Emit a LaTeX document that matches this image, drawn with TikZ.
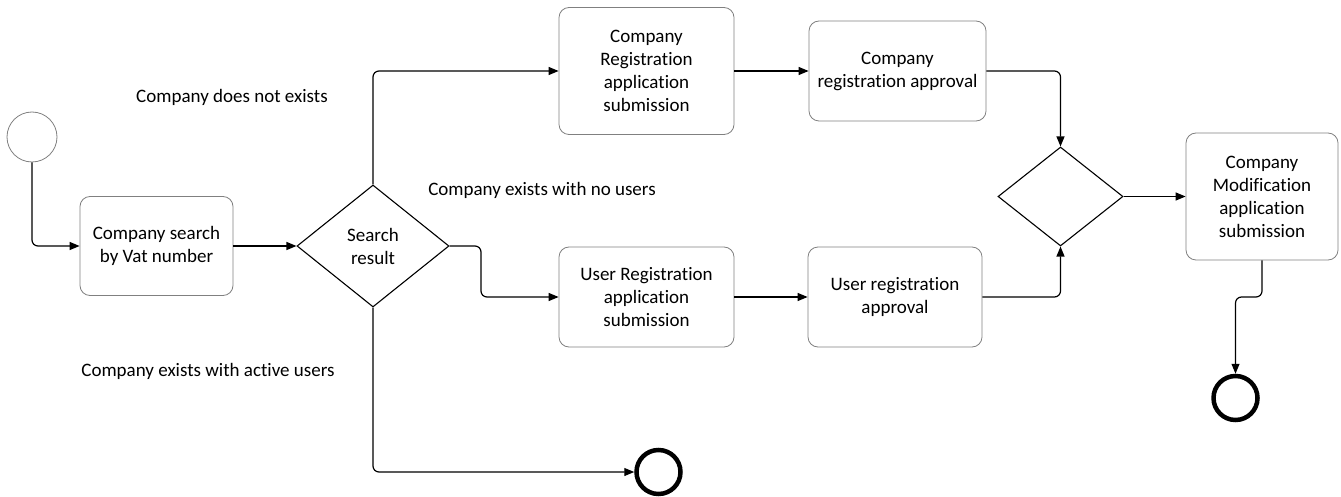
\documentclass[tikz,border=0pt]{standalone}
\usepackage{fontspec}
\setmainfont{Carlito}[Ligatures={NoCommon,NoRare,NoDiscretionary}]
\usetikzlibrary{arrows.meta,shapes.geometric}
\begin{document}
\begin{tikzpicture}[x=1pt,y=-1pt,
  every node/.style={font=\fontsize{19}{23}\selectfont},
  task/.style={draw=black!50, line width=0.8pt, rounded corners=10pt, inner sep=0pt, align=center},
  gate/.style={diamond, draw=black, line width=1.1pt, inner sep=0pt, align=center},
  startev/.style={circle, draw=black!50, line width=0.8pt, inner sep=0pt, minimum size=50pt},
  endev/.style={circle, draw=black, line width=4.5pt, inner sep=0pt, minimum size=44pt},
  flow/.style={draw=black, line width=1.2pt, rounded corners=6pt, -{Triangle[length=10pt,width=8pt]}},
  lbl/.style={inner sep=0pt, text=black}
]
\useasboundingbox (0,0) rectangle (1341,497);

\node[startev] (s) at (32,137) {};
\node[task, minimum width=153pt, minimum height=99pt] (a) at (156.5,246) {Company search\\by Vat number};
\node[gate, minimum width=152pt, minimum height=122pt, aspect=1.25] (g1) at (373,246) {Search\\result};
\node[task, minimum width=175pt, minimum height=127pt] (b) at (646.5,71) {Company\\Registration\\application\\submission};
\node[task, minimum width=177pt, minimum height=100pt] (c) at (897.5,71) {Company\\registration approval};
\node[task, minimum width=175pt, minimum height=100pt] (d) at (646.5,297) {User Registration\\application\\submission};
\node[task, minimum width=174pt, minimum height=100pt] (e) at (895,297) {User registration\\approval};
\node[gate, minimum width=125pt, minimum height=99pt, aspect=1.26] (g2) at (1060.5,196.5) {};
\node[task, minimum width=152pt, minimum height=127pt] (f) at (1262,196.5) {Company\\Modification\\application\\submission};
\node[endev] (e1) at (658.5,472) {};
\node[endev] (e2) at (1235.5,398) {};

\node[lbl] (l1) at (232,97) {Company does not exists};
\node[lbl] (l2) at (542,190) {Company exists with no users};
\node[lbl] (l3) at (208,371) {Company exists with active users};

\draw[flow] (s.south) |- (a.west);
\draw[flow] (a.east) -- (g1.west);
\draw[flow] (g1.north) |- (b.west);
\draw[flow] (g1.east) -- (481,246) |- (d.west);
\draw[flow] (g1.south) |- (e1.west);
\draw[flow] (b.east) -- (c.west);
\draw[flow] (c.east) -| (g2.north);
\draw[flow] (d.east) -- (e.west);
\draw[flow] (e.east) -| (g2.south);
\draw[flow] (g2.east) -- (f.west);
\draw[flow] (f.south) -- (1262,297) -| (e2.north);
\end{tikzpicture}
\end{document}
